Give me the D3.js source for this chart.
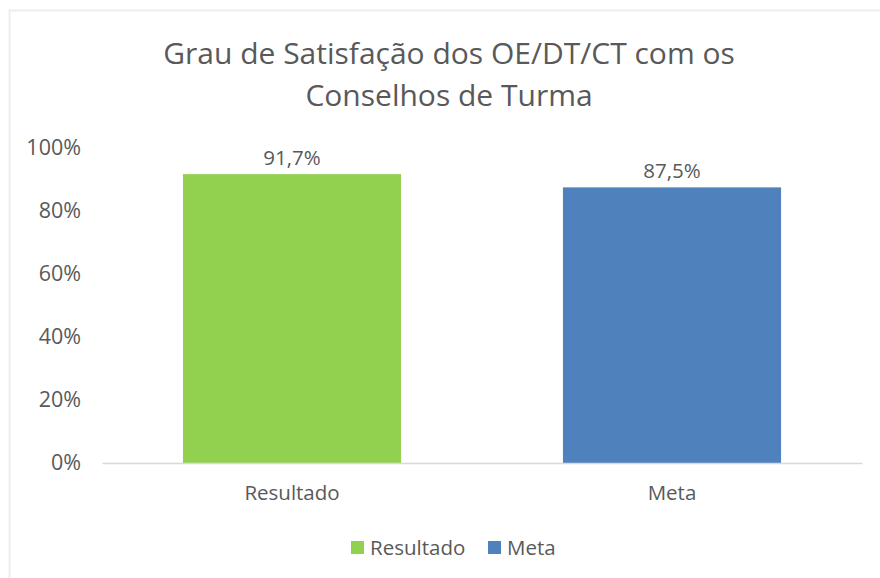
<!DOCTYPE html>
<html>
<head>
<meta charset="utf-8">
<script src="https://cdn.jsdelivr.net/npm/d3@7"></script>
<style>
  body { margin: 0; background: #fff; }
  text { font-family: "Open Sans", sans-serif; fill: #595959; }
</style>
</head>
<body>
<script>
// chart values
var categories = ["Resultado", "Meta"];
var values = [0.917, 0.875];
var colors = ["#92d050", "#4f81bd"];
var yTicks = [0, 0.2, 0.4, 0.6, 0.8, 1];
var titleLines = ["Grau de Satisfação dos OE/DT/CT com os", "Conselhos de Turma"];

var width = 880, height = 578;
var labelSize = 20.5;

var svg = d3.select("body").append("svg")
    .attr("width", width)
    .attr("height", height);

// chart area border
svg.append("rect")
    .attr("x", 9.5).attr("y", 10.5)
    .attr("width", width).attr("height", height)
    .attr("fill", "none")
    .attr("stroke", "#ededed")
    .attr("stroke-width", 2);

// scales
var x = d3.scaleBand()
    .domain(categories)
    .range([102, 862])
    .paddingInner(0.426)
    .paddingOuter(0.213);

var y = d3.scaleLinear()
    .domain([0, 1])
    .range([463, 148]);

var fmt = function(d) { return Math.round(d * 100) + "%"; };

// title
svg.append("g").selectAll("text")
  .data(titleLines)
  .enter().append("text")
    .attr("x", 449)
    .attr("y", function(d, i) { return 64 + i * 42; })
    .attr("text-anchor", "middle")
    .attr("font-size", 30)
    .text(function(d) { return d; });

// y axis labels (no line)
var yAxis = svg.append("g")
    .attr("transform", "translate(81,0)")
    .call(d3.axisLeft(y).tickValues(yTicks).tickFormat(fmt).tickSize(0).tickPadding(0));
yAxis.select(".domain").remove();
yAxis.selectAll("text")
    .attr("font-size", 21.5)
    .attr("fill", "#595959")
    .style("font-family", "'Open Sans', sans-serif");

// bars
svg.append("g").selectAll("rect")
  .data(values)
  .enter().append("rect")
    .attr("x", function(d, i) { return x(categories[i]); })
    .attr("y", function(d) { return y(d); })
    .attr("width", x.bandwidth())
    .attr("height", function(d) { return y(0) - y(d); })
    .attr("fill", function(d, i) { return colors[i]; });

// data labels
svg.append("g").selectAll("text")
  .data(values)
  .enter().append("text")
    .attr("x", function(d, i) { return x(categories[i]) + x.bandwidth() / 2; })
    .attr("y", function(d) { return y(d) - 9; })
    .attr("text-anchor", "middle")
    .attr("font-size", labelSize)
    .text(function(d) { return d3.format(".1f")(d * 100).replace(".", ",") + "%"; });

// x axis
var xAxis = svg.append("g")
    .attr("transform", "translate(0," + y(0) + ")")
    .call(d3.axisBottom(x).tickSize(0).tickPadding(22));
xAxis.select(".domain")
    .attr("stroke", "#d9d9d9")
    .attr("stroke-width", 1.5);
xAxis.selectAll("text")
    .attr("font-size", labelSize)
    .attr("fill", "#595959")
    .style("font-family", "'Open Sans', sans-serif");

// legend
var legendX = [351, 488];
var legend = svg.append("g").selectAll("g")
  .data(categories)
  .enter().append("g")
    .attr("transform", function(d, i) { return "translate(" + legendX[i] + ",541)"; });
legend.append("rect")
    .attr("width", 13).attr("height", 13)
    .attr("fill", function(d, i) { return colors[i]; });
legend.append("text")
    .attr("x", 19)
    .attr("y", 14)
    .attr("font-size", labelSize)
    .text(function(d) { return d; });
</script>
</body>
</html>
